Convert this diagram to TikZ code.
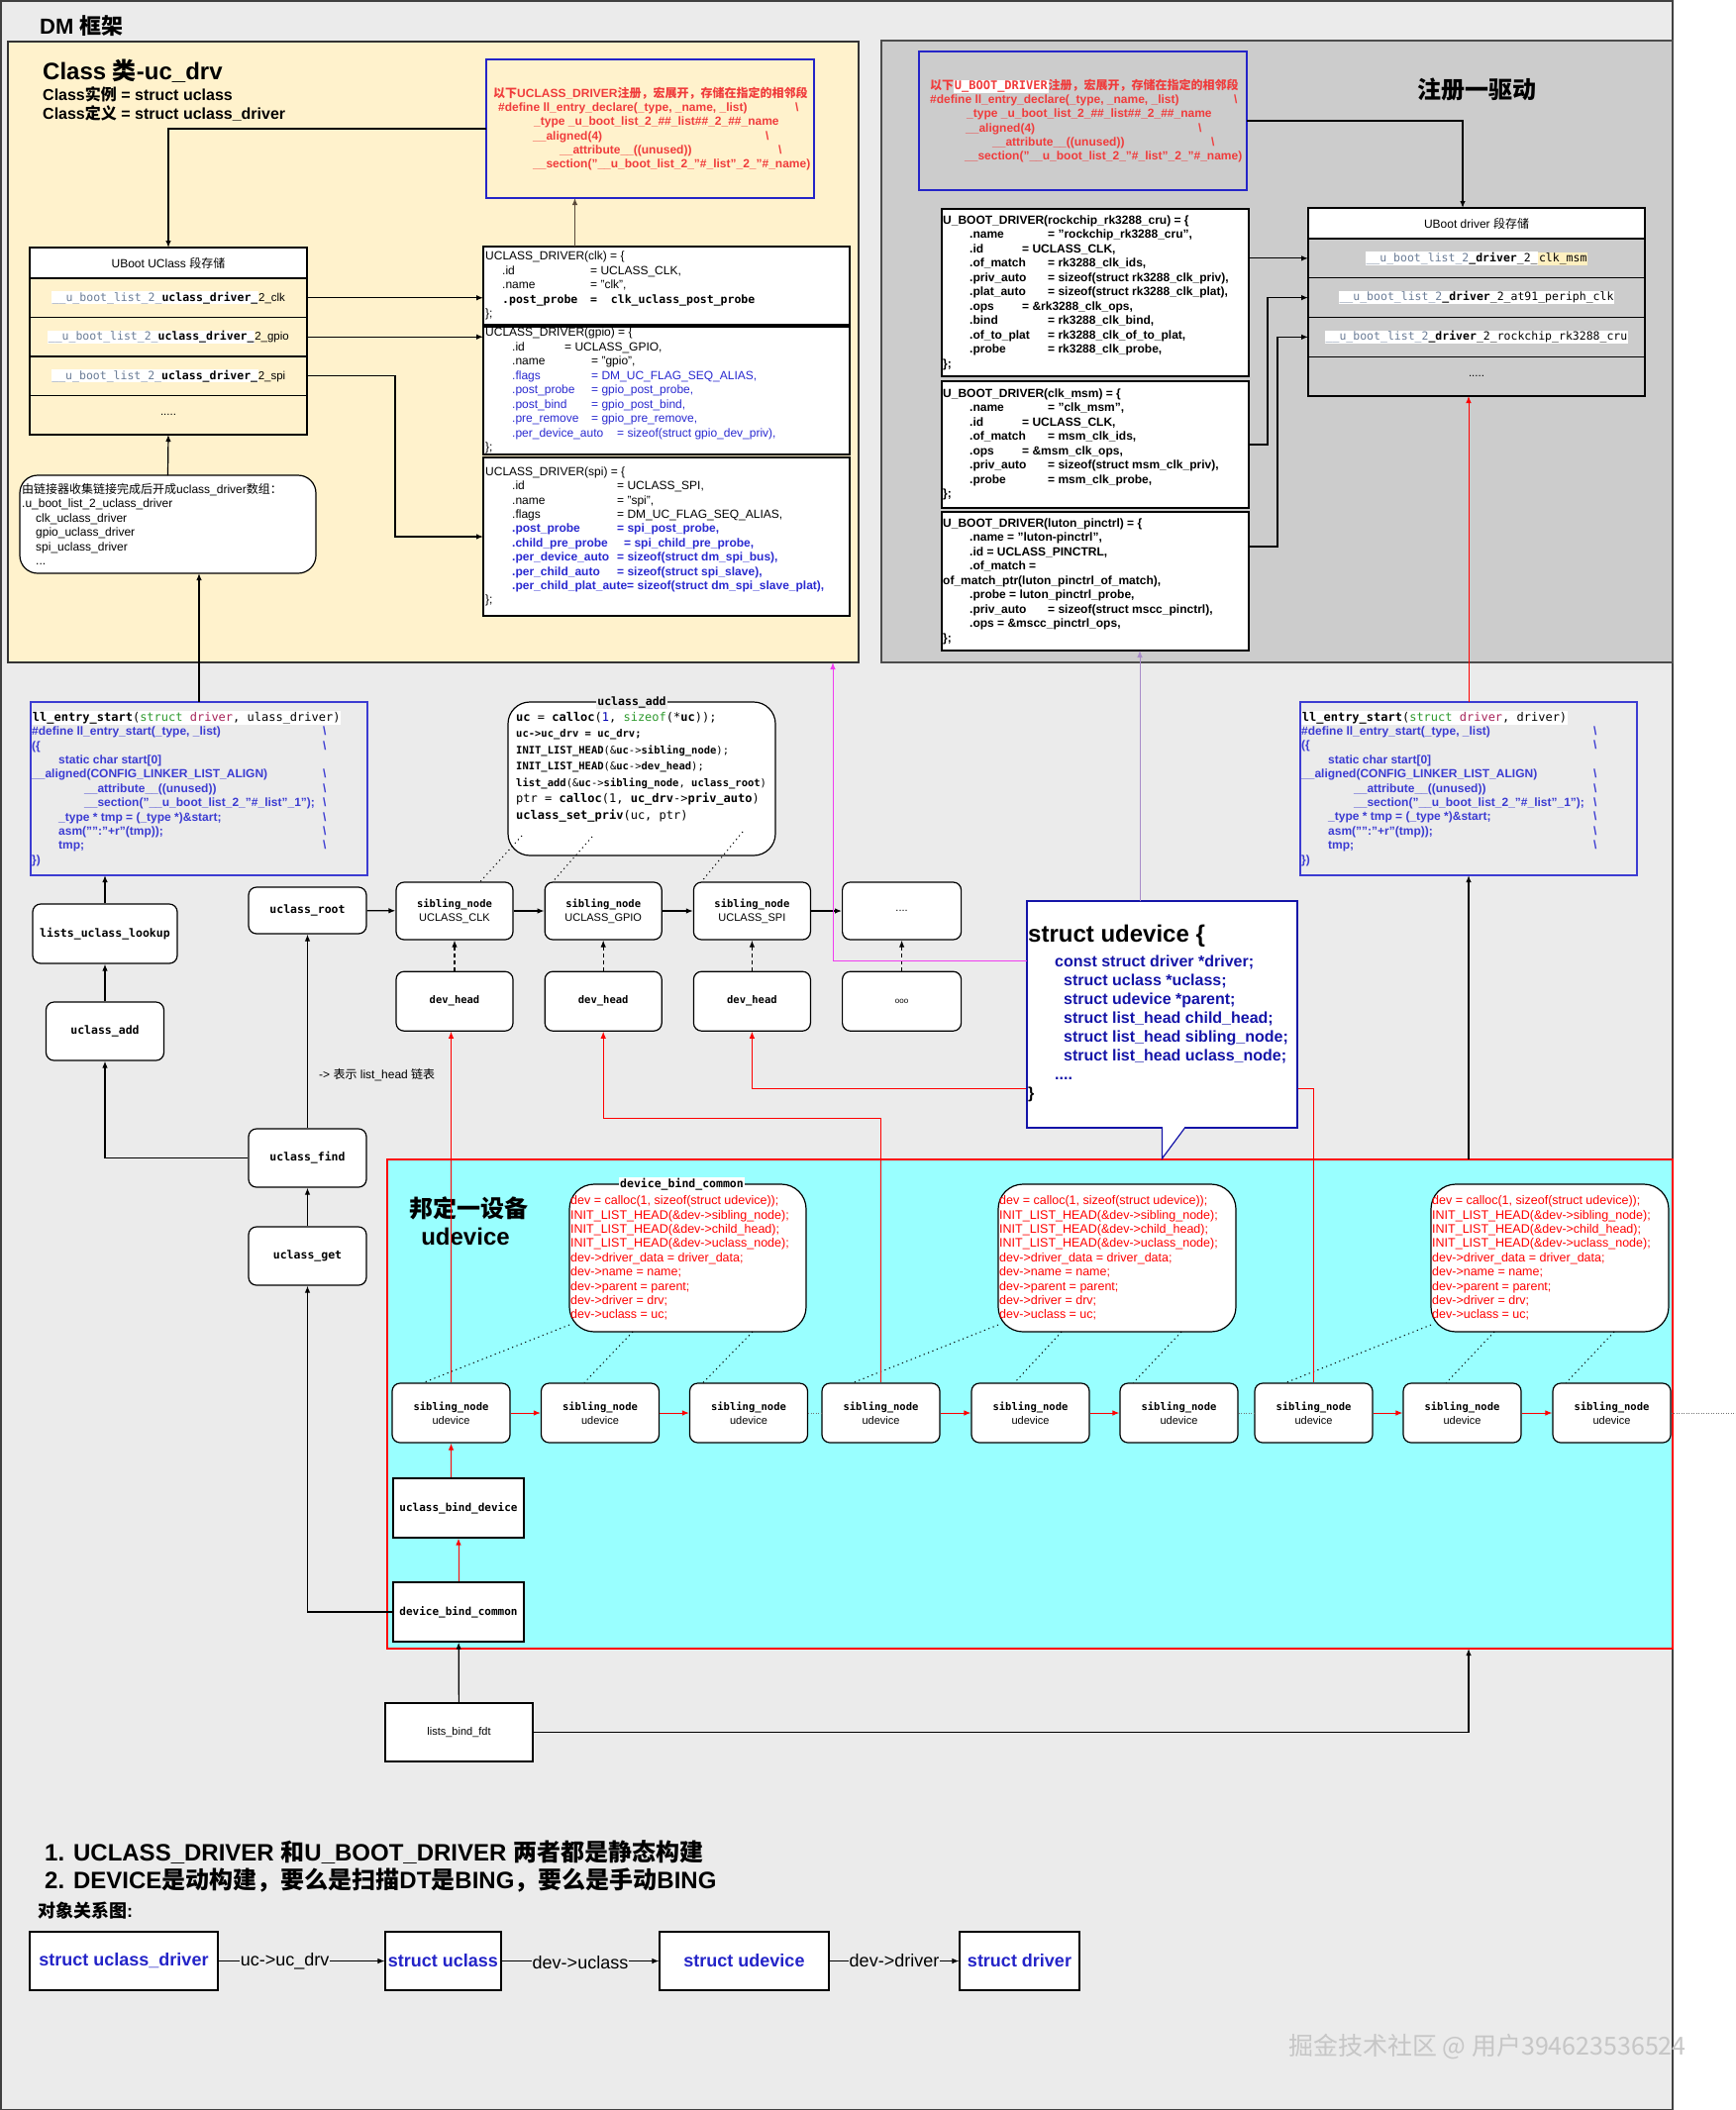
\documentclass[tikz,border=0pt]{standalone}
\usepackage{fontspec}
\setmainfont{Liberation Sans}
\newfontfamily\cjk{Noto Sans CJK SC}
\newfontfamily\mono{DejaVu Sans Mono}
\usetikzlibrary{arrows.meta, positioning, calc}

\definecolor{canvas}{HTML}{EBEBEB}
\definecolor{classbg}{HTML}{FFF2CC}
\definecolor{regbg}{HTML}{CCCCCC}
\definecolor{bindbg}{HTML}{99FFFF}
\definecolor{declblue}{HTML}{2424C8}
\definecolor{declred}{HTML}{F03C3C}
\definecolor{codeblue}{HTML}{2A2AD0}
\definecolor{entryblue}{HTML}{3C3CD2}
\definecolor{slate}{HTML}{6A7C96}
\definecolor{codegreen}{HTML}{2E9A2E}
\definecolor{codered}{HTML}{A8245A}
\definecolor{udevblue}{HTML}{1414A8}
\definecolor{hlyellow}{HTML}{FFF0C0}
\definecolor{linkmag}{HTML}{F03CF0}
\definecolor{linkpurple}{HTML}{A88CC8}
\definecolor{wline}{HTML}{5A4A3A}

\newcommand{\fs}[2]{\fontsize{#1}{#2}\selectfont}
\newcommand{\kv}[4]{\hspace*{#1pt}\makebox[#2pt][l]{#3}#4}
\newcommand{\hl}[2][white]{{\setlength{\fboxsep}{0.7pt}\colorbox{#1}{#2}}}
\newcommand{\bsl}{\textbackslash}

\tikzset{
  framebox/.style={draw=black, line width=1.2pt, fill=white, anchor=north west, inner sep=0pt, outer sep=0pt},
  area/.style={line width=1.2pt, anchor=north west, inner sep=0pt, outer sep=0pt},
  decl/.style={draw=declblue, line width=1.2pt, anchor=north west, inner sep=0pt, outer sep=0pt},
  txt/.style={anchor=west, align=left, inner sep=0pt},
  rowcell/.style={draw=black, line width=1.2pt, minimum width=280pt, minimum height=39.5pt, inner sep=0pt, outer sep=0pt, font=\fs{11.5}{14}},
  rnode/.style={draw=black, line width=1.2pt, fill=white, rounded corners=8pt, align=center, inner sep=1pt, font=\mono\bfseries\fs{11.5}{14}},
  sibnode/.style={rnode, minimum width=118pt, minimum height=58pt, font=\fs{11}{14}},
  sqnode/.style={draw=black, line width=1.2pt, fill=white, align=center, inner sep=1pt, font=\mono\bfseries\fs{11}{14}},
  objbox/.style={draw=black, line width=1.2pt, fill=white, minimum height=59pt, inner sep=2pt, font=\bfseries\fs{18}{22}, text=declblue},
  arr/.style={-{Latex[length=7pt,width=5.5pt]}, line width=1.2pt},
  redarr/.style={arr, line width=1pt, draw=red, -{Latex[length=7pt,width=5.5pt, fill=red]}},
  dasharr/.style={arr, dash pattern=on 4pt off 3pt},
  dotline/.style={line width=1pt, dash pattern=on 1.2pt off 3.5pt},
  thindots/.style={line width=0.6pt, black!55, dash pattern=on 1pt off 1.5pt},
  boxtag/.style={inner sep=1pt, font=\mono\bfseries\fs{11.5}{13}},
  arrlbl/.style={fill=canvas, inner sep=1pt, font=\fs{18}{22}}
}

\begin{document}
\catcode`\_=12
\begin{tikzpicture}[x=1pt, y=1pt]
\useasboundingbox (0,0) rectangle (1753,-2131);
\fill[white] (0,0) rectangle (1753,-2131);
\filldraw[fill=canvas, draw=black!75, line width=1.5pt] (0.75,-0.75) rectangle (1689,-2131);

\node[area, draw=black!80, fill=classbg, minimum width=859pt, minimum height=627pt] (classbox) at (8,-42) {};
\node[area, draw=black!70, fill=regbg, minimum width=799pt, minimum height=628pt] (regbox) at (890,-41) {};
\node[area, draw=red, fill=bindbg, minimum width=1298pt, minimum height=494pt] (bindarea) at (391,-1171) {};

\node[anchor=base west, inner sep=0pt, font=\bfseries\fs{22}{26}] (dmtitle) at (40,-34) {DM {\cjk 框架}};
\node[anchor=base west, inner sep=0pt, font=\bfseries\fs{24}{28}] (classtitle) at (43,-80) {Class {\cjk 类}-uc_drv};
\node[anchor=base west, inner sep=0pt, font=\bfseries\fs{16}{19}] (classinst) at (43,-101) {Class{\cjk 实例} = struct uclass};
\node[anchor=base west, inner sep=0pt, font=\bfseries\fs{16}{19}] (classdef) at (43,-120) {Class{\cjk 定义} = struct uclass_driver};
\node[anchor=base west, inner sep=0pt, font=\bfseries\fs{24}{28}] (regtitle) at (1431,-99) {\cjk 注册一驱动};

\node[decl, minimum width=331pt, minimum height=140pt] (decl1) at (491,-60) {};
\node[txt, text=declred, font=\bfseries\fs{12}{14.3}] (decl1txt) at ([xshift=7pt]decl1.west) {
{\cjk 以下}UCLASS_DRIVER{\cjk 注册，宏展开，存储在指定的相邻段}\\
\hspace*{5pt}\makebox[300pt][l]{\#define ll_entry_declare(_type, _name, _list)}\bsl\\
\hspace*{41pt}_type _u_boot_list_2_\#\#_list\#\#_2_\#\#_name\\
\hspace*{40pt}\makebox[235pt][l]{__aligned(4)}\bsl\\
\hspace*{67pt}\makebox[221pt][l]{__attribute__((unused))}\bsl\\
\hspace*{40pt}__section("__u_boot_list_2_"\#_list"_2_"\#_name)};

\node[decl, minimum width=331pt, minimum height=140pt] (decl2) at (928,-52) {};
\node[txt, text=declred, font=\bfseries\fs{12}{14.3}] (decl2txt) at ([xshift=11pt]decl2.west) {
{\cjk 以下}\hl{\mono\bfseries U_BOOT_DRIVER}{\cjk 注册，宏展开，存储在指定的相邻段}\\
\makebox[307pt][l]{\#define ll_entry_declare(_type, _name, _list)}\bsl\\
\hspace*{37pt}_type _u_boot_list_2_\#\#_list\#\#_2_\#\#_name\\
\hspace*{36pt}\makebox[235pt][l]{__aligned(4)}\bsl\\
\hspace*{63pt}\makebox[221pt][l]{__attribute__((unused))}\bsl\\
\hspace*{35pt}__section("__u_boot_list_2_"\#_list"_2_"\#_name)};

\node[rowcell, fill=white, minimum height=31pt, anchor=north west, font=\fs{12}{14}] (ucT) at (30,-250) {UBoot UClass {\cjk 段存储}};
\node[rowcell, below=0pt of ucT] (ucA) {\hl{{\mono\color{slate}__u_boot_list_2_}{\mono\bfseries uclass_driver_}}2_clk};
\node[rowcell, below=0pt of ucA] (ucB) {\hl{{\mono\color{slate}__u_boot_list_2_}{\mono\bfseries uclass_driver_}}2_gpio};
\node[rowcell, below=0pt of ucB] (ucC) {\hl{{\mono\color{slate}__u_boot_list_2_}{\mono\bfseries uclass_driver_}}2_spi};
\node[rowcell, below=0pt of ucC] (ucD) {.....};

\node[framebox, rounded corners=18pt, minimum width=299pt, minimum height=99pt] (linked) at (20,-480) {};
\node[txt, font=\fs{12}{14.5}] (linkedtxt) at ([xshift=2pt]linked.west) {
{\cjk 由链接器收集链接完成后开成}uclass_driver{\cjk 数组：}\\
.u_boot_list_2_uclass_driver\\
\hspace*{14pt}clk_uclass_driver\\
\hspace*{14pt}gpio_uclass_driver\\
\hspace*{14pt}spi_uclass_driver\\
\hspace*{14pt}...};

\node[framebox, minimum width=370pt, minimum height=79pt] (clkdrv) at (488,-249) {};
\node[txt, font=\fs{12}{14.5}] (clkdrvtxt) at ([xshift=2pt]clkdrv.west) {
UCLASS_DRIVER(clk) = \{\\
\kv{17}{89}{.id}{= UCLASS_CLK,}\\
\kv{17}{89}{.name}{= "clk",}\\
{\mono\bfseries\fs{11.5}{14.5}\kv{17}{89}{.post_probe}{=\ \ clk_uclass_post_probe}}\\
\};};

\node[framebox, minimum width=370pt, minimum height=129pt] (gpiodrv) at (488,-330) {};
\node[txt, font=\fs{12}{14.5}] (gpiodrvtxt) at ([xshift=2pt]gpiodrv.west) {
UCLASS_DRIVER(gpio) = \{\\
\kv{27}{53}{.id}{= UCLASS_GPIO,}\\
\kv{27}{80}{.name}{= "gpio",}\\
{\color{codeblue}\kv{27}{80}{.flags}{= DM_UC_FLAG_SEQ_ALIAS,}}\\
{\color{codeblue}\kv{27}{80}{.post_probe}{= gpio_post_probe,}}\\
{\color{codeblue}\kv{27}{80}{.post_bind}{= gpio_post_bind,}}\\
{\color{codeblue}\kv{27}{80}{.pre_remove}{= gpio_pre_remove,}}\\
{\color{codeblue}\kv{27}{106}{.per_device_auto}{= sizeof(struct gpio_dev_priv),}}\\
\};};

\node[framebox, minimum width=370pt, minimum height=160pt] (spidrv) at (488,-462) {};
\node[txt, font=\fs{12}{14.4}] (spidrvtxt) at ([xshift=2pt]spidrv.west) {
UCLASS_DRIVER(spi) = \{\\
\kv{27}{106}{.id}{= UCLASS_SPI,}\\
\kv{27}{106}{.name}{= "spi",}\\
\kv{27}{106}{.flags}{= DM_UC_FLAG_SEQ_ALIAS,}\\
{\color{codeblue}\bfseries\kv{27}{106}{.post_probe}{= spi_post_probe,}}\\
{\color{codeblue}\bfseries\kv{27}{113}{.child_pre_probe}{= spi_child_pre_probe,}}\\
{\color{codeblue}\bfseries\kv{27}{106}{.per_device_auto}{= sizeof(struct dm_spi_bus),}}\\
{\color{codeblue}\bfseries\kv{27}{106}{.per_child_auto}{= sizeof(struct spi_slave),}}\\
{\color{codeblue}\bfseries\hspace*{27pt}.per_child_plat_aute= sizeof(struct dm_spi_slave_plat),}\\
\};};

\node[framebox, minimum width=310pt, minimum height=169pt] (rkdrv) at (951,-211) {};
\node[txt, font=\bfseries\fs{12}{14.5}] (rkdrvtxt) at ([xshift=1pt]rkdrv.west) {
U_BOOT_DRIVER(rockchip_rk3288_cru) = \{\\
\kv{27}{79}{.name}{= "rockchip_rk3288_cru",}\\
\kv{27}{53}{.id}{= UCLASS_CLK,}\\
\kv{27}{79}{.of_match}{= rk3288_clk_ids,}\\
\kv{27}{79}{.priv_auto}{= sizeof(struct rk3288_clk_priv),}\\
\kv{27}{79}{.plat_auto}{= sizeof(struct rk3288_clk_plat),}\\
\kv{27}{53}{.ops}{= \&rk3288_clk_ops,}\\
\kv{27}{79}{.bind}{= rk3288_clk_bind,}\\
\kv{27}{79}{.of_to_plat}{= rk3288_clk_of_to_plat,}\\
\kv{27}{79}{.probe}{= rk3288_clk_probe,}\\
\};};

\node[framebox, minimum width=310pt, minimum height=128pt] (msmdrv) at (951,-385) {};
\node[txt, font=\bfseries\fs{12}{14.5}] (msmdrvtxt) at ([xshift=1pt]msmdrv.west) {
U_BOOT_DRIVER(clk_msm) = \{\\
\kv{27}{79}{.name}{= "clk_msm",}\\
\kv{27}{53}{.id}{= UCLASS_CLK,}\\
\kv{27}{79}{.of_match}{= msm_clk_ids,}\\
\kv{27}{53}{.ops}{= \&msm_clk_ops,}\\
\kv{27}{79}{.priv_auto}{= sizeof(struct msm_clk_priv),}\\
\kv{27}{79}{.probe}{= msm_clk_probe,}\\
\};};

\node[framebox, minimum width=310pt, minimum height=140pt] (lutondrv) at (951,-517) {};
\node[txt, font=\bfseries\fs{12}{14.5}] (lutondrvtxt) at ([xshift=1pt]lutondrv.west) {
U_BOOT_DRIVER(luton_pinctrl) = \{\\
\hspace*{27pt}.name = "luton-pinctrl",\\
\hspace*{27pt}.id = UCLASS_PINCTRL,\\
\hspace*{27pt}.of_match =\\
of_match_ptr(luton_pinctrl_of_match),\\
\hspace*{27pt}.probe = luton_pinctrl_probe,\\
\kv{27}{79}{.priv_auto}{= sizeof(struct mscc_pinctrl),}\\
\hspace*{27pt}.ops = \&mscc_pinctrl_ops,\\
\};};

\node[rowcell, fill=white, minimum width=340pt, minimum height=31pt, anchor=north west, font=\fs{12}{14}] (drvT) at (1321,-210) {UBoot driver {\cjk 段存储}};
\node[rowcell, minimum width=340pt, minimum height=39.75pt, below=0pt of drvT] (drvA) {\hl{{\mono\color{slate}__u_boot_list_2}{\mono\bfseries _driver}{\mono _2_}}\hl[hlyellow]{\mono clk_msm}};
\node[rowcell, minimum width=340pt, minimum height=39.75pt, below=0pt of drvA] (drvB) {\hl{{\mono\color{slate}__u_boot_list_2}{\mono\bfseries _driver}{\mono _2_at91_periph_clk}}};
\node[rowcell, minimum width=340pt, minimum height=39.75pt, below=0pt of drvB] (drvC) {\hl{{\mono\color{slate}__u_boot_list_2}{\mono\bfseries _driver}{\mono _2_rockchip_rk3288_cru}}};
\node[rowcell, minimum width=340pt, minimum height=39.75pt, below=0pt of drvC] (drvD) {.....};

\node[decl, draw=entryblue, minimum width=340pt, minimum height=175pt] (entryL) at (31,-709) {};
\node[txt, text=entryblue, font=\bfseries\fs{12}{14.4}] (entryLtxt) at ([xshift=1pt]entryL.west) {
\hl{\mono\mdseries\color{black}\fs{12}{14.4}{\bfseries ll_entry_start}(\textcolor{codegreen}{struct} \textcolor{codered}{driver}, ulass_driver)}\\
\makebox[294pt][l]{\#define ll_entry_start(_type, _list)}\bsl\\
\makebox[294pt][l]{(\{}\bsl\\
\hspace*{27pt}static char start[0]\\
\makebox[294pt][l]{__aligned(CONFIG_LINKER_LIST_ALIGN)}\bsl\\
\makebox[294pt][l]{\hspace*{53pt}__attribute__((unused))}\bsl\\
\makebox[294pt][l]{\hspace*{53pt}__section("__u_boot_list_2_"\#_list"_1");}\bsl\\
\makebox[294pt][l]{\hspace*{27pt}_type * tmp = (_type *)\&start;}\bsl\\
\makebox[294pt][l]{\hspace*{27pt}asm("":"+r"(tmp));}\bsl\\
\makebox[294pt][l]{\hspace*{27pt}tmp;}\bsl\\
\})};

\node[decl, draw=entryblue, minimum width=340pt, minimum height=175pt] (entryR) at (1313,-709) {};
\node[txt, text=entryblue, font=\bfseries\fs{12}{14.4}] (entryRtxt) at ([xshift=1pt]entryR.west) {
\hl{\mono\mdseries\color{black}\fs{12}{14.4}{\bfseries ll_entry_start}(\textcolor{codegreen}{struct} \textcolor{codered}{driver}, driver)}\\
\makebox[295pt][l]{\#define ll_entry_start(_type, _list)}\bsl\\
\makebox[295pt][l]{(\{}\bsl\\
\hspace*{27pt}static char start[0]\\
\makebox[295pt][l]{__aligned(CONFIG_LINKER_LIST_ALIGN)}\bsl\\
\makebox[295pt][l]{\hspace*{53pt}__attribute__((unused))}\bsl\\
\makebox[295pt][l]{\hspace*{53pt}__section("__u_boot_list_2_"\#_list"_1");}\bsl\\
\makebox[295pt][l]{\hspace*{27pt}_type * tmp = (_type *)\&start;}\bsl\\
\makebox[295pt][l]{\hspace*{27pt}asm("":"+r"(tmp));}\bsl\\
\makebox[295pt][l]{\hspace*{27pt}tmp;}\bsl\\
\})};

\node[framebox, rounded corners=22pt, minimum width=270pt, minimum height=155pt] (ucaddcode) at (513,-709) {};
\node[boxtag, fill=canvas] (ucaddtag) at ([xshift=-10pt]ucaddcode.north) {uclass_add};
\node[txt, anchor=north west, font=\mono\fs{11}{16.5}] (ucaddtxt) at ([xshift=8pt,yshift=-10pt]ucaddcode.north west) {
{\fs{12}{15}\textbf{uc} = \textbf{calloc}(\textcolor{blue!70!black}{1}, \textcolor{codegreen}{sizeof}(*\textbf{uc}));}\\
{\fs{10.5}{14}\bfseries uc->uc_drv = uc_drv;}\\
{\fs{10.5}{14}\textbf{INIT_LIST_HEAD}(\&\textbf{uc}->\textbf{sibling_node});}\\
{\fs{10.5}{14}\textbf{INIT_LIST_HEAD}(\&\textbf{uc}->\textbf{dev_head});}\\
{\fs{10.5}{14}\textbf{list_add}(\&\textbf{uc}->\textbf{sibling_node}, \textbf{uclass_root})}\\
{\fs{12}{15}ptr = \textbf{calloc}(1, \textbf{uc_drv}->\textbf{priv_auto})}\\
{\fs{12}{15}\textbf{uclass_set_priv}(uc, ptr)}};

\node[rnode, minimum width=146pt, minimum height=60pt] (lookup) at (106,-943) {lists_uclass_lookup};
\node[rnode, minimum width=119pt, minimum height=59pt] (ucadd) at (106,-1041.5) {uclass_add};
\node[rnode, minimum width=119pt, minimum height=47pt] (ucroot) at (310.5,-919.5) {uclass_root};
\node[rnode, minimum width=119pt, minimum height=59pt] (ucfind) at (310.5,-1169.5) {uclass_find};
\node[rnode, minimum width=119pt, minimum height=59pt] (ucget) at (310.5,-1268.5) {uclass_get};

\node[sibnode] (sibCLK) at (459,-920) {{\mono\bfseries\fs{10.5}{13}sibling_node}\\UCLASS_CLK};
\node[sibnode, right=31pt of sibCLK] (sibGPIO) {{\mono\bfseries\fs{10.5}{13}sibling_node}\\UCLASS_GPIO};
\node[sibnode, right=31pt of sibGPIO] (sibSPI) {{\mono\bfseries\fs{10.5}{13}sibling_node}\\UCLASS_SPI};
\node[sibnode, minimum width=120pt, right=31pt of sibSPI] (sibMore) {....};
\node[sibnode, minimum height=60pt, below=31pt of sibCLK] (dh1) {{\mono\bfseries\fs{10.5}{13}dev_head}};
\node[sibnode, minimum height=60pt, below=31pt of sibGPIO] (dh2) {{\mono\bfseries\fs{10.5}{13}dev_head}};
\node[sibnode, minimum height=60pt, below=31pt of sibSPI] (dh3) {{\mono\bfseries\fs{10.5}{13}dev_head}};
\node[sibnode, minimum width=120pt, minimum height=60pt, below=31pt of sibMore] (dh4) {{\fs{8}{9}ooo}};

\node[anchor=west, inner sep=0pt, font=\fs{12}{14}] (legend) at (322,-1086) {-> {\cjk 表示} list_head {\cjk 链表}};

\node[font=\bfseries\fs{24}{28}, inner sep=0pt] (bindtitle) at (473,-1220) {\cjk 邦定一设备};
\node[font=\bfseries\fs{24}{28}, inner sep=0pt] (bindsub) at (470,-1249) {udevice};

\node[framebox, rounded corners=25pt, minimum width=239pt, minimum height=149pt] (bd1) at (575,-1196) {};
\node[framebox, rounded corners=25pt, minimum width=240pt, minimum height=149pt] (bd2) at (1008,-1196) {};
\node[framebox, rounded corners=25pt, minimum width=240pt, minimum height=149pt] (bd3) at (1445,-1196) {};
\foreach \b in {1,2,3}
  \node[txt, text=red, font=\fs{12.5}{14.4}] (bdt\b) at ([xshift=1pt]bd\b.west) {
  dev = calloc(1, sizeof(struct udevice));\\
  INIT_LIST_HEAD(\&dev->sibling_node);\\
  INIT_LIST_HEAD(\&dev->child_head);\\
  INIT_LIST_HEAD(\&dev->uclass_node);\\
  dev->driver_data = driver_data;\\
  dev->name = name;\\
  dev->parent = parent;\\
  dev->driver = drv;\\
  dev->uclass = uc;};
\node[boxtag, fill=white] (bdtag) at ([xshift=-6pt]bd1.north) {device_bind_common};

\foreach \i/\x in {1/455.5, 2/606, 3/756, 4/889.5, 5/1040.5, 6/1190.5, 7/1326.5, 8/1476.5, 9/1627.5}
  \node[sibnode, minimum width=119pt, minimum height=60pt] (u\i) at (\x,-1427) {{\mono\bfseries\fs{10.5}{13}sibling_node}\\udevice};

\node[sqnode, minimum width=132pt, minimum height=60pt] (ubd) at (463,-1523) {uclass_bind_device};
\node[sqnode, minimum width=132pt, minimum height=60pt] (devbind) at (463,-1628) {device_bind_common};
\node[sqnode, font=\fs{11}{13}, minimum width=149pt, minimum height=59pt] (fdt) at (463.5,-1749.5) {lists_bind_fdt};

\draw[arr] (decl1.west) -| (ucT.north);
\coordinate (clkup) at ($(clkdrv.north west)!0.25!(clkdrv.north east)$);
\draw[arr, draw=wline] (clkup) -- (clkup |- decl1.south);
\draw[arr] (ucA.east) -- (ucA.east -| clkdrv.west);
\draw[arr] (ucB.east) -- (ucB.east -| gpiodrv.west);
\coordinate (spiturn) at ($(ucC.east)!0.5!(ucC.east -| spidrv.west)$);
\draw[arr] (ucC.east) -- (spiturn) |- (spidrv.west);
\draw[arr] (linked.north) -- (ucD.south);
\draw[arr] (entryL.north) -- (entryL.north |- linked.south);

\draw[arr] (decl2.east) -| ([xshift=-14pt]drvT.north);
\draw[arr] (drvA.west -| rkdrv.east) -- (drvA.west);
\draw[arr] (msmdrv.east) -- ++(19,0) |- (drvB.west);
\draw[arr] ([yshift=35pt]lutondrv.east) -- ++(29,0) |- (drvC.west);
\draw[redarr] (entryR.north) -- (entryR.north |- drvD.south);
\draw[arr] (entryR.south |- bindarea.north) -- (entryR.south);

\draw[arr] (ucroot) -- (sibCLK);
\draw[arr] (sibCLK) -- (sibGPIO);
\draw[arr] (sibGPIO) -- (sibSPI);
\draw[arr] (sibSPI) -- (sibMore);
\foreach \d/\s in {dh1/sibCLK, dh2/sibGPIO, dh3/sibSPI, dh4/sibMore}
  \draw[dasharr] (\d) -- (\s);
\draw[dotline] ([xshift=14pt,yshift=20pt]ucaddcode.south west) -- ([xshift=26pt]sibCLK.north);
\draw[dotline] ([xshift=85pt,yshift=19pt]ucaddcode.south west) -- ([xshift=-51pt]sibGPIO.north);
\draw[dotline] ([xshift=237pt,yshift=24pt]ucaddcode.south west) -- ([xshift=-51pt]sibSPI.north);

\draw[arr] (lookup.north) -- (lookup.north |- entryL.south);
\draw[arr] (ucadd) -- (lookup);
\draw[arr] (ucfind.west) -| (ucadd.south);
\draw[arr] (ucfind) -- (ucroot);
\draw[arr] (ucget) -- (ucfind);
\draw[arr] (devbind.west) -| (ucget.south);
\draw[arr] (fdt) -- (devbind);
\draw[arr] (fdt.east) -| (entryR.south |- bindarea.south);

\foreach \a/\b in {1/2, 2/3, 4/5, 5/6, 7/8, 8/9}
  \draw[redarr] (u\a) -- (u\b);
\foreach \a/\b in {3/4, 6/7}
  \draw[thindots] (u\a) -- (u\b);
\coordinate (edgeR) at (1753,-1427);
\draw[thindots] (u9) -- (edgeR);
\foreach \b/\s in {1/1, 2/4, 3/7} {
  \pgfmathtruncatemacro\sibB{\s+1}
  \pgfmathtruncatemacro\sibC{\s+2}
  \draw[dotline] ([yshift=7pt]bd\b.south west) -- ([xshift=-28pt]u\s.north);
  \draw[dotline] ([xshift=64pt]bd\b.south west) -- ([xshift=-16pt]u\sibB.north);
  \draw[dotline] ([xshift=185pt]bd\b.south west) -- ([xshift=-46pt]u\sibC.north);
}

\draw[redarr] (devbind) -- (ubd);
\draw[redarr] (u1.south |- ubd.north) -- (u1.south);
\draw[redarr] (u1.north) -- (u1.north |- dh1.south);
\draw[redarr] (u4.north) -- ++(0,267) -| (dh2.south);
\draw[redarr] (u7.north) -- ++(0,297) -| (dh3.south);

\node[anchor=north west, minimum width=273pt, minimum height=229pt, draw=udevblue, fill=white, line width=1.2pt, inner sep=0pt, outer sep=0pt] (udev) at (1037,-910) {};
\fill[white] (udev.south) -- ([yshift=-31pt]udev.south) -- ([xshift=23pt]udev.south) -- cycle;
\fill[white] ([xshift=0.7pt,yshift=1.2pt]udev.south) rectangle ([xshift=22.3pt,yshift=-1.2pt]udev.south);
\draw[udevblue, line width=1.2pt] (udev.south) -- ([yshift=-31pt]udev.south) -- ([xshift=23pt]udev.south);
\node[txt, text=udevblue, font=\bfseries\fs{16}{19}] (udevtxt) at ([xshift=1pt,yshift=1pt]udev.west) {
{\color{black}\fs{24}{28}struct udevice \{}\\[6pt]
\hspace*{27pt}const struct driver *driver;\\
\hspace*{36pt}struct uclass *uclass;\\
\hspace*{36pt}struct udevice *parent;\\
\hspace*{36pt}struct list_head child_head;\\
\hspace*{36pt}struct list_head sibling_node;\\
\hspace*{36pt}struct list_head uclass_node;\\
\hspace*{27pt}....\\
{\color{black}\}}};
\draw[arr, line width=1pt, draw=linkmag] ([yshift=54.5pt]udev.west) -| ([xshift=-26pt]classbox.south east);
\coordinate (pu) at ([xshift=-22.5pt]udev.north);
\draw[arr, line width=1pt, draw=linkpurple] (pu) -- (pu |- lutondrv.south);

\node[anchor=base west, inner sep=0pt, font=\bfseries\fs{24}{28}] (note1) at (45,-1879) {1. UCLASS_DRIVER {\cjk 和}U_BOOT_DRIVER {\cjk 两者都是静态构建}};
\node[anchor=base west, inner sep=0pt, font=\bfseries\fs{24}{28}] (note2) at (45,-1907) {2. DEVICE{\cjk 是动构建，要么是扫描}DT{\cjk 是}BING{\cjk ，要么是手动}BING};
\node[anchor=base west, inner sep=0pt, font=\bfseries\fs{18}{22}] (relhead) at (38,-1936) {{\cjk 对象关系图}:};

\node[objbox, minimum width=190pt] (oUD) at (125,-1980.5) {struct uclass_driver};
\node[objbox, minimum width=117pt] (oUC) at (447.5,-1980.5) {struct uclass};
\node[objbox, minimum width=171pt] (oDEV) at (751.5,-1980.5) {struct udevice};
\node[objbox, minimum width=121pt] (oDRV) at (1029.5,-1980.5) {struct driver};
\draw[arr, line width=1pt] (oUD) -- node[arrlbl, pos=0.4] {uc->uc_drv} (oUC);
\draw[arr, line width=1pt] (oUC) -- node[arrlbl, yshift=-2pt] {dev->uclass} (oDEV);
\draw[arr, line width=1pt] (oDEV) -- node[arrlbl] {dev->driver} (oDRV);

\node[font=\cjk\fs{25}{28}, text=gray!45, inner sep=0pt] (mark) at (1502,-2067) {掘金技术社区 @ 用户394623536524};
\end{tikzpicture}
\end{document}
